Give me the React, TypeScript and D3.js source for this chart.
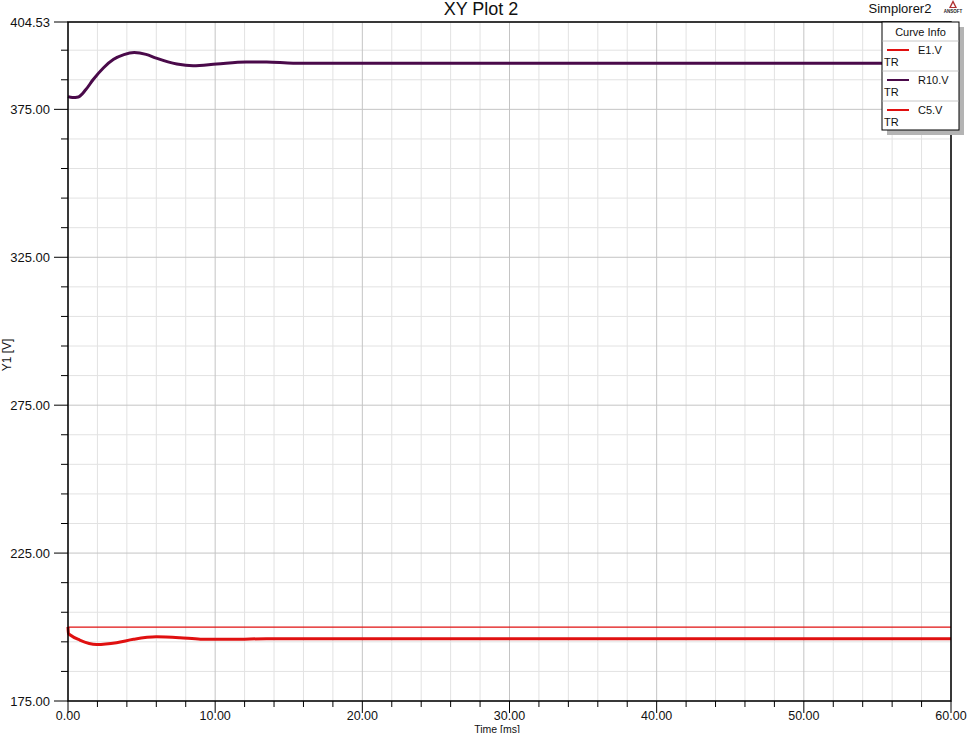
import React from "react";
import * as d3 from "d3";

const r10Time = [0, 0.3, 0.7, 1.2, 1.7, 2.4, 3.1, 3.8, 4.5, 5.3, 6.0, 7.4, 8.5, 10.1, 12.1, 13.5, 15.3, 20, 30, 40, 50, 60];
const r10Values = [379.3, 379.0, 379.2, 381.6, 385.0, 389.0, 391.9, 393.5, 394.2, 393.6, 392.3, 390.3, 389.7, 390.3, 391.0, 391.0, 390.6, 390.6, 390.6, 390.6, 390.6, 390.6];

const c5Time = [0, 0.03, 0.15, 0.8, 1.95, 3.3, 4.45, 6.0, 7.6, 9.0, 11.2, 13.5, 18, 30, 40, 50, 60];
const c5Values = [200.0, 197.8, 197.3, 195.6, 194.1, 194.7, 195.85, 196.7, 196.4, 195.9, 195.85, 196.05, 196.05, 196.05, 196.05, 196.05, 196.05];

const e1Time = [0, 60];
const e1Values = [200, 200];

const yMajorTicks = [175, 225, 275, 325, 375, 404.53];
const yTickLabels = ["175.00", "225.00", "275.00", "325.00", "375.00", "404.53"];
const yMinorTicks = [185, 195, 205, 215, 235, 245, 255, 265, 285, 295, 305, 315, 335, 345, 355, 365, 385, 395];
const xMajorTicks = [0, 10, 20, 30, 40, 50, 60];
const xTickLabels = ["0.00", "10.00", "20.00", "30.00", "40.00", "50.00", "60.00"];
const xMinorTicks = [2, 4, 6, 8, 12, 14, 16, 18, 22, 24, 26, 28, 32, 34, 36, 38, 42, 44, 46, 48, 52, 54, 56, 58];

const legendNames = ["E1.V", "R10.V", "C5.V"];
const legendColors = ["#e01010", "#4a0a4a", "#e01010"];

const FONT = "Arial, 'Liberation Sans', sans-serif";

export default function App() {
  const left = 68, right = 951, top = 22, bottom = 701;
  const x = d3.scaleLinear().domain([0, 60]).range([left, right]);
  const y = d3.scaleLinear().domain([175, 404.53]).range([bottom, top]);

  const mk = (ts: number[], vs: number[]) =>
    d3.line<number>().x((_, i) => x(ts[i])).y((v) => y(v)).curve(d3.curveMonotoneX)(vs) || "";

  return (
    <svg width={970} height={733} style={{ position: "absolute", left: 0, top: 0, background: "#fff" }}>
      <rect x={0} y={0} width={970} height={733} fill="#fff" />
      {xMinorTicks.map((t) => (
        <line key={"xg" + t} x1={x(t)} x2={x(t)} y1={top} y2={bottom} stroke="#e2e2e2" strokeWidth={1} />
      ))}
      {yMinorTicks.map((t) => (
        <line key={"yg" + t} x1={left} x2={right} y1={y(t)} y2={y(t)} stroke="#e2e2e2" strokeWidth={1} />
      ))}
      {xMajorTicks.map((t) => (
        <line key={"xG" + t} x1={x(t)} x2={x(t)} y1={top} y2={bottom} stroke="#c4c4c4" strokeWidth={1} />
      ))}
      {yMajorTicks.map((t) => (
        <line key={"yG" + t} x1={left} x2={right} y1={y(t)} y2={y(t)} stroke="#c4c4c4" strokeWidth={1} />
      ))}

      <path d={mk(e1Time, e1Values)} fill="none" stroke="#e01010" strokeWidth={1.3} />
      <path d={mk(c5Time, c5Values)} fill="none" stroke="#e01010" strokeWidth={3} />
      <path d={mk(r10Time, r10Values)} fill="none" stroke="#4a0a4a" strokeWidth={3} />

      <rect x={left} y={top} width={right - left} height={bottom - top} fill="none" stroke="#000" strokeWidth={1.5} />

      {yMajorTicks.map((t, i) => (
        <g key={"yt" + t}>
          <line x1={left - 14} x2={left} y1={y(t)} y2={y(t)} stroke="#000" strokeWidth={1} />
          <text x={left - 18} y={y(t) + 4.5} textAnchor="end" fontFamily={FONT} fontSize={13} fill="#111">
            {yTickLabels[i]}
          </text>
        </g>
      ))}
      {yMinorTicks.map((t) => (
        <line key={"ym" + t} x1={left - 7} x2={left} y1={y(t)} y2={y(t)} stroke="#000" strokeWidth={1} />
      ))}
      {xMajorTicks.map((t, i) => (
        <g key={"xt" + t}>
          <line x1={x(t)} x2={x(t)} y1={bottom} y2={bottom + 12} stroke="#000" strokeWidth={1} />
          <text x={x(t)} y={bottom + 19} textAnchor="middle" fontFamily={FONT} fontSize={12.5} fill="#111">
            {xTickLabels[i]}
          </text>
        </g>
      ))}
      {xMinorTicks.map((t) => (
        <line key={"xm" + t} x1={x(t)} x2={x(t)} y1={bottom} y2={bottom + 6} stroke="#000" strokeWidth={1} />
      ))}

      <text x={481} y={15} textAnchor="middle" fontFamily={FONT} fontSize={18} fill="#111">XY Plot 2</text>
      <text x={900} y={13} textAnchor="middle" fontFamily={FONT} fontSize={13} fill="#111">Simplorer2</text>
      <g transform="translate(953,0)">
        <path d="M0,0 L4,8 L-4,8 Z" fill="#b03030" />
        <path d="M0,3 L2,7 L-2,7 Z" fill="#fff" />
        <text x={0} y={13} textAnchor="middle" fontFamily={FONT} fontSize={4.5} fontWeight="bold" fill="#222">ANSOFT</text>
      </g>
      <text x={497} y={732.5} textAnchor="middle" fontFamily={FONT} fontSize={10.5} fill="#111">Time [ms]</text>
      <text transform="translate(11,355) rotate(-90)" textAnchor="middle" fontFamily={FONT} fontSize={12} fill="#111">Y1 [V]</text>

      <rect x={887} y={27} width={77} height={108} fill="#b4b4b4" />
      <rect x={882} y={22} width={77} height={108} fill="#fff" stroke="#000" strokeWidth={1} />
      <text x={920.5} y={36} textAnchor="middle" fontFamily={FONT} fontSize={11} fill="#111">Curve Info</text>
      {legendNames.map((n, i) => {
        const y0 = 41 + i * 30;
        return (
          <g key={n}>
            <line x1={882.5} x2={958.5} y1={y0} y2={y0} stroke="#c8c8c8" strokeWidth={1} />
            <line x1={887} x2={909} y1={y0 + 9} y2={y0 + 9} stroke={legendColors[i]} strokeWidth={2} />
            <text x={918} y={y0 + 13} fontFamily={FONT} fontSize={11} fill="#111">{n}</text>
            <text x={884} y={y0 + 25} fontFamily={FONT} fontSize={11} fill="#111">TR</text>
          </g>
        );
      })}
    </svg>
  );
}
